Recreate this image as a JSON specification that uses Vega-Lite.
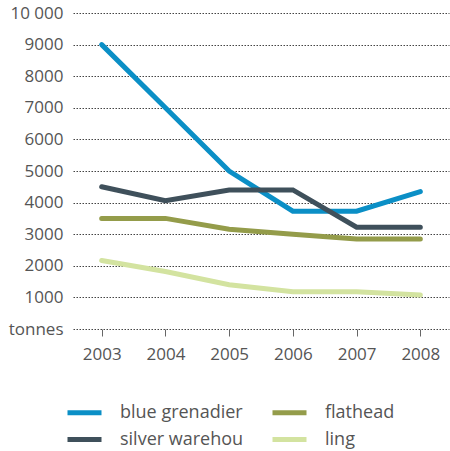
{
  "$schema": "https://vega.github.io/schema/vega-lite/v6.json",
  "width": 376,
  "height": 316,
  "autosize": {"type": "none"},
  "padding": {"left": 73, "top": 13, "right": 1, "bottom": 122},
  "background": "white",
  "config": {
    "view": {"stroke": null},
    "font": "Open Sans",
    "axis": {"labelFont": "Open Sans", "labelColor": "#555555", "labelFontSize": 17}
  },
  "data": {
    "values": [
      {"year": "2003", "species": "blue grenadier", "tonnes": 9000},
      {"year": "2004", "species": "blue grenadier", "tonnes": 7000},
      {"year": "2005", "species": "blue grenadier", "tonnes": 5000},
      {"year": "2006", "species": "blue grenadier", "tonnes": 3730},
      {"year": "2007", "species": "blue grenadier", "tonnes": 3730},
      {"year": "2008", "species": "blue grenadier", "tonnes": 4350},
      {"year": "2003", "species": "silver warehou", "tonnes": 4500},
      {"year": "2004", "species": "silver warehou", "tonnes": 4060},
      {"year": "2005", "species": "silver warehou", "tonnes": 4400},
      {"year": "2006", "species": "silver warehou", "tonnes": 4400},
      {"year": "2007", "species": "silver warehou", "tonnes": 3220},
      {"year": "2008", "species": "silver warehou", "tonnes": 3220},
      {"year": "2003", "species": "flathead", "tonnes": 3500},
      {"year": "2004", "species": "flathead", "tonnes": 3500},
      {"year": "2005", "species": "flathead", "tonnes": 3160},
      {"year": "2006", "species": "flathead", "tonnes": 3000},
      {"year": "2007", "species": "flathead", "tonnes": 2850},
      {"year": "2008", "species": "flathead", "tonnes": 2850},
      {"year": "2003", "species": "ling", "tonnes": 2170},
      {"year": "2004", "species": "ling", "tonnes": 1820},
      {"year": "2005", "species": "ling", "tonnes": 1400},
      {"year": "2006", "species": "ling", "tonnes": 1180},
      {"year": "2007", "species": "ling", "tonnes": 1180},
      {"year": "2008", "species": "ling", "tonnes": 1075}
    ]
  },
  "mark": {"type": "line", "strokeWidth": 5, "strokeCap": "round"},
  "encoding": {
    "x": {
      "field": "year",
      "type": "ordinal",
      "scale": {"type": "point", "padding": 0.45},
      "axis": {
        "title": null,
        "labelAngle": 0,
        "domain": false,
        "ticks": true,
        "tickColor": "#666666",
        "tickSize": 7,
        "tickWidth": 1,
        "labelPadding": 10,
        "grid": false
      }
    },
    "y": {
      "field": "tonnes",
      "type": "quantitative",
      "scale": {"domain": [0, 10000], "nice": false},
      "axis": {
        "title": null,
        "values": [0, 1000, 2000, 3000, 4000, 5000, 6000, 7000, 8000, 9000, 10000],
        "labelExpr": "datum.value == 0 ? 'tonnes' : (datum.value >= 10000 ? '10 000' : '' + datum.value)",
        "domain": false,
        "ticks": false,
        "labelPadding": 10,
        "grid": true,
        "gridColor": "#444444",
        "gridDash": [1.5, 1.5],
        "gridWidth": 1
      }
    },
    "color": {
      "field": "species",
      "type": "nominal",
      "scale": {
        "domain": ["blue grenadier", "flathead", "silver warehou", "ling"],
        "range": ["#0b8fc6", "#949c4a", "#3f505b", "#d3e3a0"]
      },
      "legend": {
        "title": null,
        "orient": "none",
        "legendX": -1,
        "legendY": 387,
        "columns": 2,
        "direction": "horizontal",
        "symbolType": "M-1.7,0H1.7",
        "symbolSize": 400,
        "symbolStrokeWidth": 5,
        "labelFontSize": 18,
        "labelColor": "#555555",
        "labelFont": "Open Sans",
        "labelOffset": 23,
        "rowPadding": 4,
        "columnPadding": 18
      }
    }
  }
}
